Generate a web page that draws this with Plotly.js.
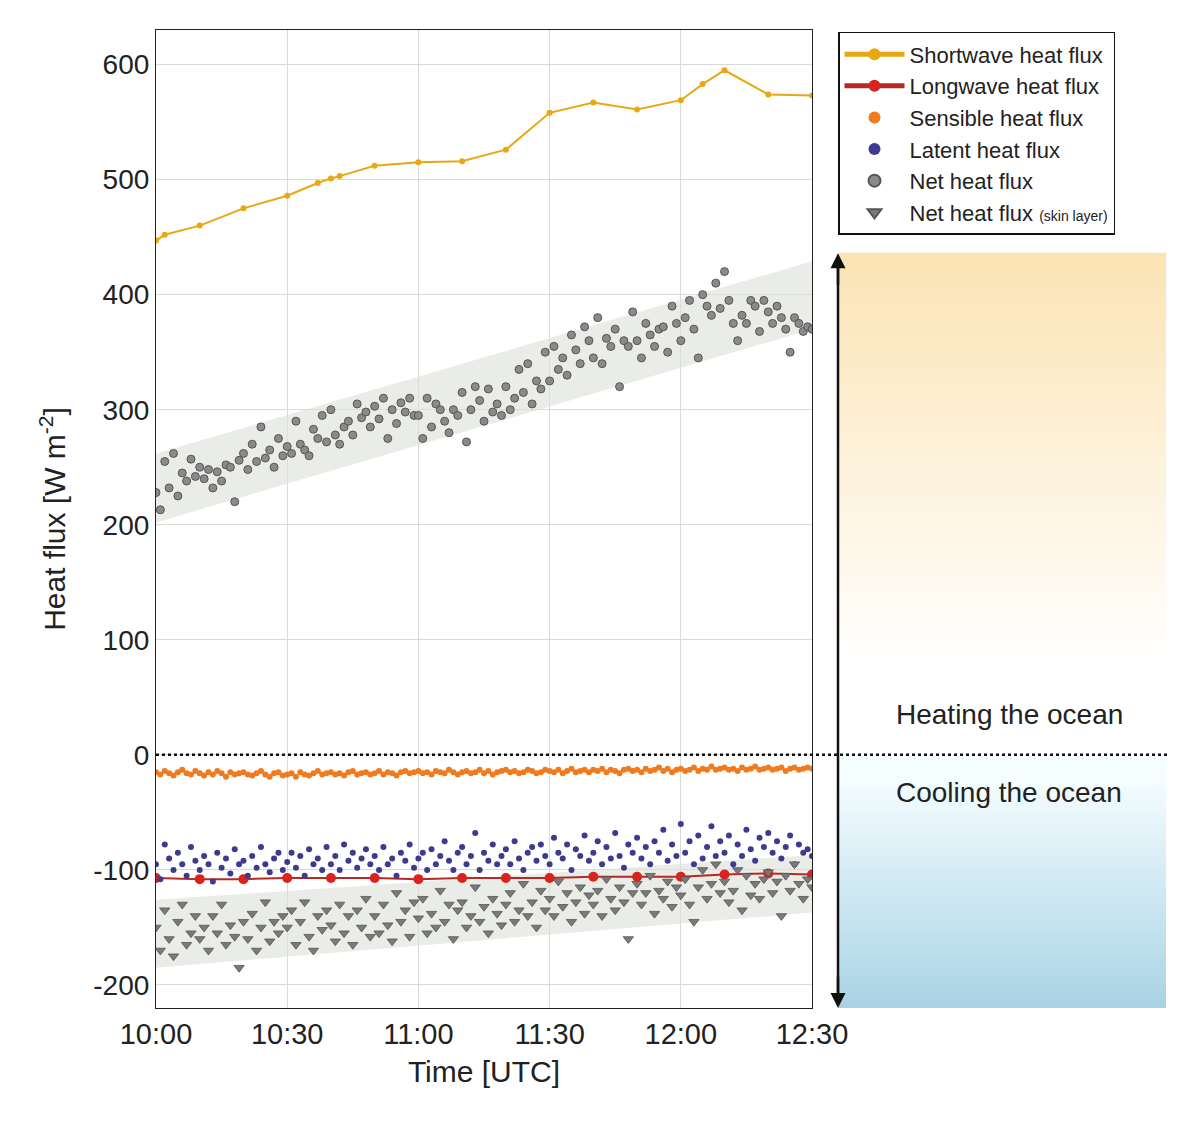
<!DOCTYPE html>
<html>
<head>
<meta charset="utf-8">
<script src="https://cdn.plot.ly/plotly-3.0.1.min.js"></script>
<style>
  html, body { margin: 0; padding: 0; background: #fff; }
  #chart { width: 1200px; height: 1129px; }
</style>
</head>
<body>
<div id="chart"></div>
<script>
// ---- data ----
const day = '2020-01-01 ';

const swTimes = ['10:00','10:02','10:10','10:20','10:30','10:37','10:40','10:42','10:50','11:00','11:10','11:20','11:30','11:40','11:50','12:00','12:05','12:10','12:20','12:30'];
const swValues = [447,452,460,475,486,497,501,503,512,515,516,526,558,567,561,569,583,595,574,573];

const lwTimes = ['10:00','10:10','10:20','10:30','10:40','10:50','11:00','11:10','11:20','11:30','11:40','11:50','12:00','12:10','12:20','12:30'];
const lwValues = [-107,-108,-108,-107,-107,-107,-108,-107,-107,-107,-106,-106,-106,-104,-103,-104];

// one value per minute, 10:00 .. 12:30
const netValues = [
  228,213,255,232,262,225,245,238,257,242,
  250,240,248,232,246,238,252,250,220,256,
  262,248,270,255,285,258,265,250,275,260,
  268,262,290,270,265,260,283,275,295,272,
  300,278,270,285,290,278,305,293,298,285,
  303,292,310,275,300,288,306,298,310,295,
  295,275,310,285,305,300,290,280,300,295,
  315,272,300,320,308,290,318,298,305,295,
  320,300,310,335,315,340,305,325,318,350,
  325,355,335,345,330,365,352,340,372,360,
  345,380,340,362,355,370,320,360,355,385,
  360,345,375,365,355,370,372,350,390,375,
  360,380,395,370,345,400,390,382,410,388,
  420,395,375,360,382,375,395,390,368,395,
  385,375,390,380,370,350,380,375,368,372,
  370];

const latentValues = [
  -95,-108,-78,-90,-100,-85,-95,-105,-80,-92,
  -100,-88,-95,-110,-85,-98,-90,-103,-82,-95,
  -92,-105,-88,-98,-80,-95,-102,-90,-85,-100,
  -93,-85,-98,-88,-105,-82,-95,-90,-100,-80,
  -95,-88,-100,-78,-92,-85,-98,-90,-82,-95,
  -88,-100,-80,-95,-90,-105,-85,-92,-78,-98,
  -90,-85,-100,-82,-95,-88,-75,-92,-100,-85,
  -80,-95,-88,-68,-100,-85,-92,-78,-95,-88,
  -82,-95,-75,-90,-100,-85,-80,-92,-78,-88,
  -95,-72,-85,-90,-78,-100,-82,-88,-70,-92,
  -85,-75,-95,-80,-90,-68,-88,-98,-78,-85,
  -72,-90,-80,-95,-75,-85,-65,-92,-78,-88,
  -60,-85,-75,-95,-70,-90,-80,-62,-88,-75,
  -85,-70,-95,-78,-88,-65,-82,-92,-72,-80,
  -68,-85,-75,-90,-80,-70,-95,-78,-85,-82,
  -88];

const sensibleValues = [
  -15,-17,-14,-16,-18,-15,-13,-16,-17,-14,
  -16,-18,-15,-17,-14,-16,-19,-15,-17,-16,
  -15,-17,-18,-16,-14,-17,-19,-16,-15,-18,
  -17,-16,-19,-15,-17,-18,-16,-14,-17,-16,
  -15,-17,-16,-18,-15,-14,-17,-16,-15,-17,
  -16,-14,-17,-15,-16,-18,-15,-14,-16,-15,
  -14,-16,-15,-17,-14,-15,-16,-13,-15,-17,
  -15,-14,-16,-15,-13,-16,-14,-17,-15,-14,
  -13,-15,-14,-16,-15,-13,-14,-16,-15,-13,
  -14,-15,-13,-16,-14,-12,-15,-14,-13,-15,
  -13,-14,-12,-15,-13,-14,-16,-13,-12,-14,
  -13,-15,-12,-14,-13,-11,-14,-12,-15,-13,
  -12,-14,-13,-11,-14,-12,-13,-10,-13,-12,
  -11,-13,-12,-14,-11,-13,-12,-10,-13,-12,
  -11,-13,-12,-11,-14,-12,-11,-13,-12,-11,
  -12];

const skinValues = [
  -150,-170,-135,-160,-175,-145,-130,-165,-155,-140,
  -160,-150,-170,-140,-155,-130,-165,-148,-158,-185,
  -145,-160,-138,-170,-150,-128,-162,-145,-155,-140,
  -150,-135,-165,-145,-128,-158,-170,-140,-152,-135,
  -148,-162,-130,-155,-140,-165,-135,-150,-125,-158,
  -140,-155,-130,-148,-162,-120,-145,-135,-158,-128,
  -142,-125,-155,-138,-150,-118,-145,-130,-160,-135,
  -128,-150,-140,-115,-145,-132,-155,-125,-138,-148,
  -130,-120,-145,-135,-112,-140,-128,-150,-118,-135,
  -125,-140,-110,-132,-120,-145,-128,-115,-138,-122,
  -130,-118,-140,-108,-125,-135,-115,-128,-160,-120,
  -112,-130,-120,-105,-138,-118,-125,-110,-132,-115,
  -122,-108,-130,-145,-115,-100,-125,-112,-95,-120,
  -110,-128,-118,-100,-135,-105,-122,-112,-125,-108,
  -102,-120,-110,-140,-105,-118,-95,-112,-125,-108,
  -115];

// shaded envelopes (corners: 10:00 low, 12:30 low, 12:30 high, 10:00 high)
const bandTimes = ['10:00','12:30','12:30','10:00'];
const netBand = [202,370,429,262];
const skinBand = [-185,-137,-87,-126];

// ---- helpers ----
const minuteTimes = netValues.map((_, i) => {
  const t = 600 + i;
  const h = String(Math.floor(t / 60)).padStart(2, '0');
  const m = String(t % 60).padStart(2, '0');
  return day + h + ':' + m;
});
const full = arr => arr.map(t => day + t);

const FONT = 'Liberation Sans, Arial, sans-serif';
const TXT = '#222';

const traces = [
  { x: full(bandTimes), y: netBand, type: 'scatter', mode: 'lines', fill: 'toself',
    fillcolor: 'rgba(220,225,215,0.6)', line: { width: 0 }, showlegend: false, hoverinfo: 'skip' },
  { x: full(bandTimes), y: skinBand, type: 'scatter', mode: 'lines', fill: 'toself',
    fillcolor: 'rgba(220,225,215,0.6)', line: { width: 0 }, showlegend: false, hoverinfo: 'skip' },
  { x: full(swTimes), y: swValues, type: 'scatter', mode: 'lines+markers', name: 'Shortwave heat flux',
    line: { color: '#e8a812', width: 2 }, marker: { color: '#e8a812', size: 6 } },
  { x: full(lwTimes), y: lwValues, type: 'scatter', mode: 'lines+markers', name: 'Longwave heat flux',
    line: { color: '#b52a25', width: 2 }, marker: { color: '#d8231f', size: 10 } },
  { x: minuteTimes, y: sensibleValues, type: 'scatter', mode: 'markers', name: 'Sensible heat flux',
    marker: { color: '#f07a1e', size: 6 } },
  { x: minuteTimes, y: latentValues, type: 'scatter', mode: 'markers', name: 'Latent heat flux',
    marker: { color: '#3e3a8e', size: 6 } },
  { x: minuteTimes, y: netValues, type: 'scatter', mode: 'markers', name: 'Net heat flux',
    marker: { color: '#8a8a8a', size: 8, line: { color: '#555', width: 1 } } },
  { x: minuteTimes, y: skinValues, type: 'scatter', mode: 'markers',
    name: 'Net heat flux <span style="font-size:14px">(skin layer)</span>',
    marker: { color: '#7a7a7a', size: 9, symbol: 'triangle-down', line: { color: '#555', width: 0.8 } } }
];

// right-hand gradient panel, drawn as thin stacked strips
const panelX0 = 682 / 656, panelX1 = 1010 / 656;
const shapes = [];
function mix(a, b, t) { return a.map((v, i) => Math.round(v + (b[i] - v) * t)); }
for (let y = -220; y < 436; y += 4) {
  let c;
  const mid = y + 2;
  if (mid >= 0) {
    const t = Math.min(1, Math.max(0, (mid - 80) / 356));
    c = mix([255, 255, 255], [251, 228, 180], t);
  } else {
    const t = Math.min(1, Math.max(0, (-mid - 20) / 200));
    c = mix([245, 253, 255], [168, 211, 229], t);
  }
  shapes.push({ type: 'rect', xref: 'paper', yref: 'y', x0: panelX0, x1: panelX1, y0: y, y1: Math.min(y + 4.5, 436.5),
    fillcolor: `rgb(${c[0]},${c[1]},${c[2]})`, line: { width: 0 }, layer: 'below' });
}
shapes.push({ type: 'line', xref: 'paper', yref: 'y', x0: 0, x1: 1012 / 656, y0: 0, y1: 0,
  line: { color: '#111', width: 2.5, dash: 'dot' } });
shapes.push({ type: 'line', xref: 'paper', yref: 'y', x0: panelX0, x1: panelX0, y0: -214, y1: 430,
  line: { color: '#111', width: 2.5 } });

const annotations = [
  { xref: 'paper', yref: 'y', x: panelX0, y: 436, ax: 0, ay: 40, showarrow: true, arrowhead: 2, arrowsize: 1.2,
    arrowwidth: 2.5, arrowcolor: '#111', text: ' ' },
  { xref: 'paper', yref: 'y', x: panelX0, y: -220, ax: 0, ay: -40, showarrow: true, arrowhead: 2, arrowsize: 1.2,
    arrowwidth: 2.5, arrowcolor: '#111', text: ' ' },
  { xref: 'paper', yref: 'y', x: 853 / 656, y: 35, xanchor: 'center', showarrow: false, text: 'Heating the ocean',
    font: { family: FONT, size: 28, color: TXT } },
  { xref: 'paper', yref: 'y', x: 853 / 656, y: -33, xanchor: 'center', showarrow: false, text: 'Cooling the ocean',
    font: { family: FONT, size: 28, color: TXT } }
];

const layout = {
  width: 1200, height: 1129,
  margin: { l: 156, r: 388, t: 30, b: 121 },
  paper_bgcolor: 'white', plot_bgcolor: 'white',
  font: { family: FONT, color: TXT },
  showlegend: true,
  legend: {
    x: 682 / 656, y: 0.998, xanchor: 'left', yanchor: 'top',
    bordercolor: '#111', borderwidth: 1.5, bgcolor: 'white',
    font: { family: FONT, size: 22, color: TXT }, tracegroupgap: 0,
    itemwidth: 60, itemsizing: 'constant'
  },
  xaxis: {
    type: 'date', range: [day + '10:00', day + '12:30'],
    tickformat: '%H:%M', dtick: 30 * 60 * 1000, tick0: day + '10:00',
    showgrid: true, gridcolor: '#d9d9d9', zeroline: false,
    showline: true, linecolor: '#222', linewidth: 1.2, mirror: true,
    tickfont: { family: FONT, size: 29, color: TXT }, ticks: '',
    title: { text: 'Time [UTC]', font: { family: FONT, size: 30, color: TXT }, standoff: 12 }
  },
  yaxis: {
    range: [-220, 630], tickvals: [-200, -100, 0, 100, 200, 300, 400, 500, 600],
    ticktext: ['-200', '-100', '0', '100', '200', '300', '400', '500', '600'],
    showgrid: true, gridcolor: '#d9d9d9', zeroline: false,
    showline: true, linecolor: '#222', linewidth: 1.2, mirror: true,
    tickfont: { family: FONT, size: 28, color: TXT }, ticks: '',
    title: { text: 'Heat flux [W m<sup>-2</sup>]', font: { family: FONT, size: 30, color: TXT }, standoff: 18 }
  },
  shapes: shapes,
  annotations: annotations
};

Plotly.newPlot('chart', traces, layout, { displayModeBar: false, responsive: false });
</script>
</body>
</html>
